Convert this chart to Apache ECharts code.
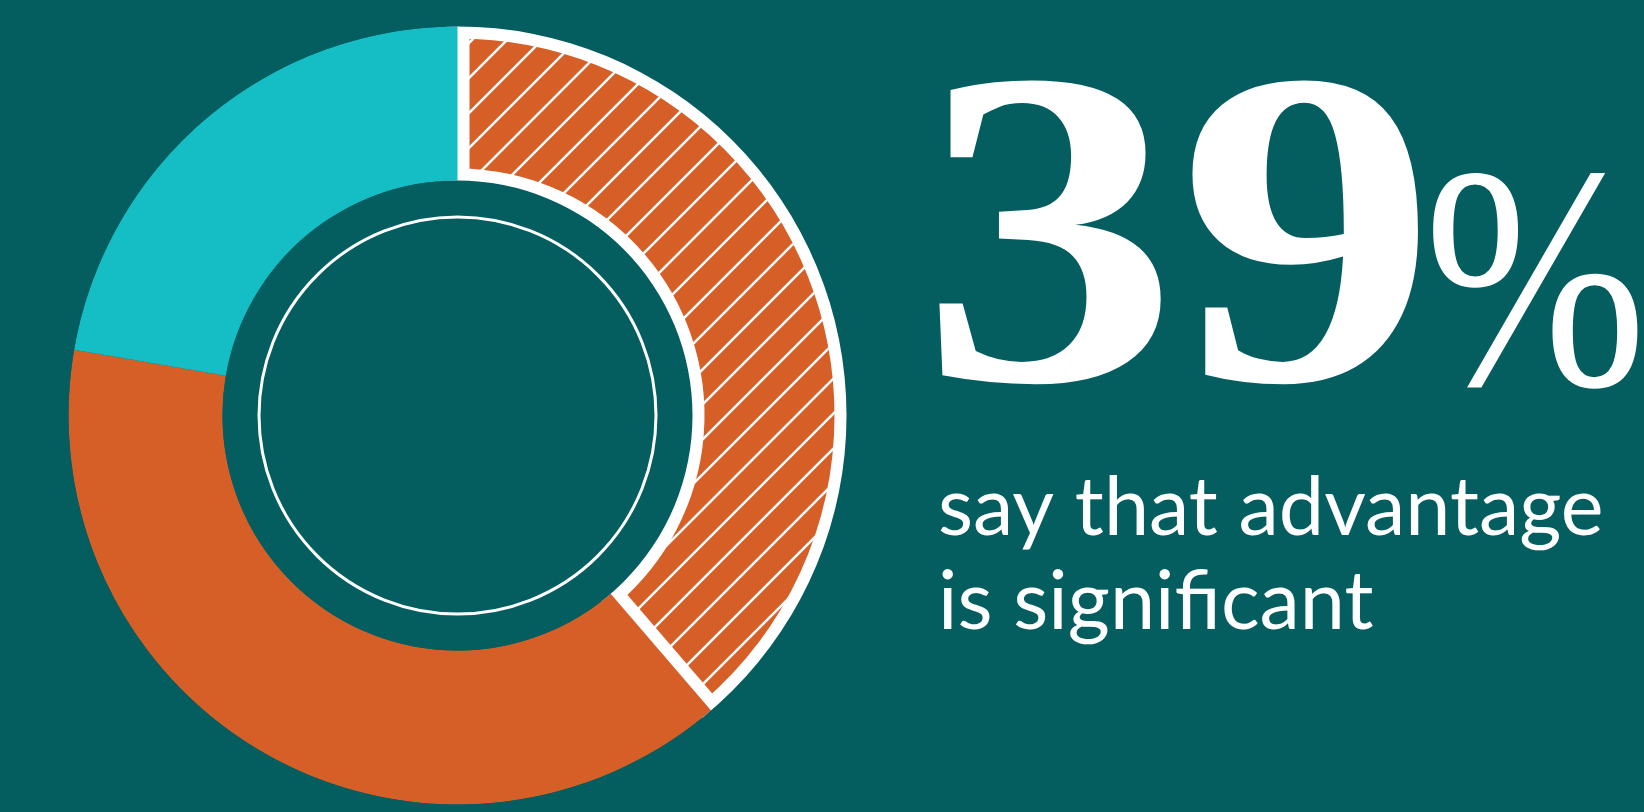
<!DOCTYPE html>
<html>
<head>
<meta charset="utf-8">
<script src="https://cdn.jsdelivr.net/npm/echarts@6/dist/echarts.min.js"></script>
<style>
  html, body { margin: 0; padding: 0; background: #045e60; }
  #chart { width: 1644px; height: 812px; }
</style>
</head>
<body>
<div id="chart"></div>
<script>
// ---- data ----
const categories = ['Significant advantage', 'Some advantage', 'Other'];
const values = [38.7, 39.0, 22.3];
const headline = '39';
const headlineUnit = '%';
const subtitleLines = ['say that advantage', 'is significant'];

// ---- style ----
const BG = '#045e60';
const TEAL = '#15bdc5';
const ORANGE = '#d65e27';
const CENTER = [457.5, 415.5];
const R_IN = 235, R_OUT = 389;

// hatch pattern tile
const P = 35;
const tile = document.createElement('canvas');
tile.width = P; tile.height = P;
const tc = tile.getContext('2d');
tc.fillStyle = ORANGE;
tc.fillRect(0, 0, P, P);
tc.strokeStyle = '#ffffff';
tc.lineWidth = 2.5;
[0, P, 2 * P].forEach(function (c) {
  tc.beginPath();
  tc.moveTo(c - 2 * P, 2 * P);
  tc.lineTo(c + 2 * P, -2 * P);
  tc.stroke();
});
const hatch = { image: tile, repeat: 'repeat', x: 22, y: 0 };

const colorsBase = [null, ORANGE, TEAL];

const dataHatch = categories.map(function (name, i) {
  if (i === 0) {
    return { name: name, value: values[i], itemStyle: { color: hatch, borderColor: '#ffffff', borderWidth: 24 } };
  }
  return { name: name, value: values[i], itemStyle: { color: 'rgba(0,0,0,0)', borderWidth: 0 } };
});
const dataSolid = categories.map(function (name, i) {
  if (i === 0) {
    return { name: name, value: values[i], itemStyle: { color: 'rgba(0,0,0,0)', borderWidth: 0 } };
  }
  return { name: name, value: values[i], itemStyle: { color: colorsBase[i], borderWidth: 0 } };
});

const pieCommon = {
  type: 'pie',
  center: CENTER,
  radius: [R_IN, R_OUT],
  startAngle: 90,
  clockwise: true,
  silent: true,
  animation: false,
  label: { show: false },
  labelLine: { show: false },
  emphasis: { disabled: true },
  avoidLabelOverlap: false
};

const chart = echarts.init(document.getElementById('chart'), null, { renderer: 'canvas' });
chart.setOption({
  backgroundColor: BG,
  animation: false,
  title: [
    {
      text: subtitleLines.join('\n'),
      left: 938, top: 462, padding: 0,
      textStyle: { color: '#ffffff', fontFamily: 'Lato', fontWeight: 'normal', fontSize: 81, lineHeight: 94 }
    }
  ],
  series: [
    Object.assign({}, pieCommon, { name: 'hatched', z: 2, data: dataHatch }),
    Object.assign({}, pieCommon, { name: 'solid', z: 3, data: dataSolid })
  ],
  graphic: [
    { type: 'ring', silent: true, z: 100, shape: { cx: CENTER[0], cy: CENTER[1], r: R_OUT + 16, r0: R_OUT }, style: { fill: BG } },
    { type: 'ring', silent: true, z: 100, shape: { cx: CENTER[0], cy: CENTER[1], r: R_IN, r0: R_IN - 16 }, style: { fill: BG } },
    { type: 'circle', silent: true, z: 100, shape: { cx: CENTER[0], cy: CENTER[1], r: 198.5 }, style: { fill: 'none', stroke: '#ffffff', lineWidth: 3 } },
    {
      type: 'text', silent: true, z: 100, x: 920, y: 263, scaleX: 1.143, scaleY: 1,
      style: { text: headline, font: 'bold 452px "Liberation Serif"', fill: '#ffffff',
               align: 'left', verticalAlign: 'middle', textAlign: 'left', textVerticalAlign: 'middle' }
    },
    {
      type: 'text', silent: true, z: 100, x: 1424, y: 301, scaleX: 0.84, scaleY: 1,
      style: { text: headlineUnit, font: 'normal 318px "Liberation Serif"', fill: '#ffffff',
               align: 'left', verticalAlign: 'middle', textAlign: 'left', textVerticalAlign: 'middle' }
    }
  ]
});
</script>
</body>
</html>
